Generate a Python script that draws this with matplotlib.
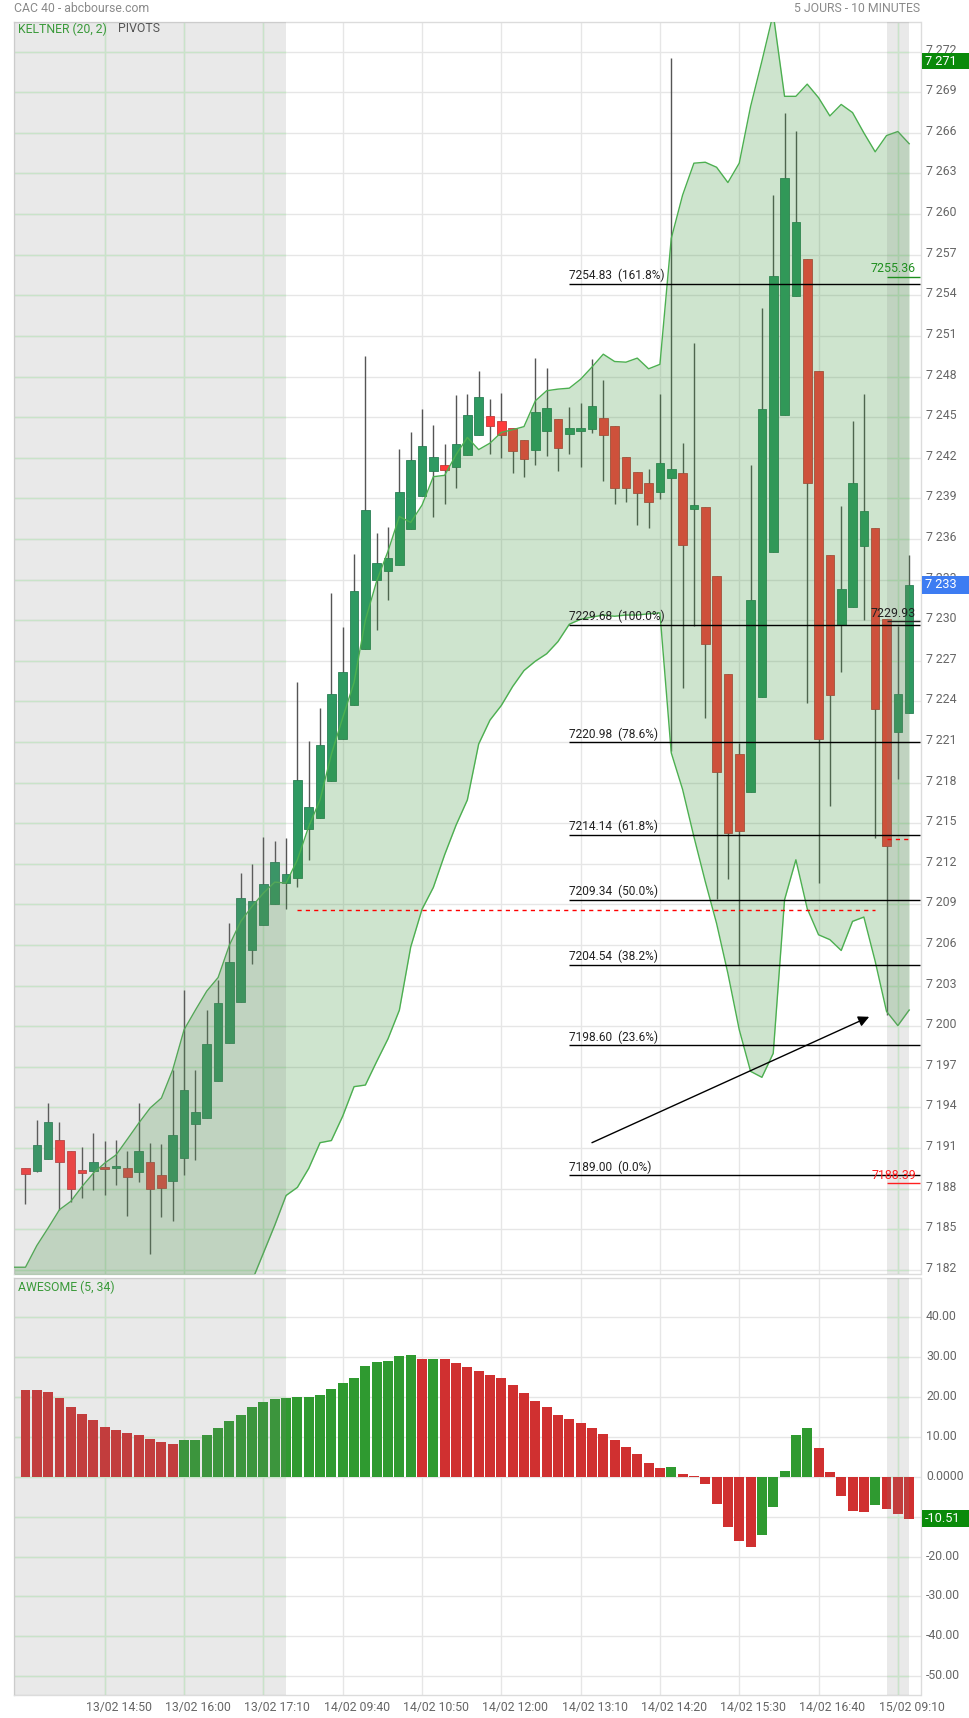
import matplotlib
matplotlib.use("Agg")
import matplotlib.pyplot as plt
import numpy as np
from matplotlib.patches import Rectangle, FancyArrowPatch
from matplotlib.transforms import ScaledTranslation, blended_transform_factory

plt.rcParams["font.family"] = ["Roboto", "DejaVu Sans"]
FS = 8.6

# ---------------------------------------------------------------- data
# 10-minute candles, 13/02 13:40 -> 15/02 09:20
opens = [7189.5, 7189.3, 7190.2, 7191.6, 7190.8, 7189.4, 7189.3, 7189.6, 7189.53, 7189.5,
         7189.2, 7190.0, 7189.0, 7188.6, 7190.25, 7192.8, 7193.2, 7195.95, 7198.8, 7201.8,
         7205.6, 7207.45, 7209.0, 7210.55, 7210.95, 7214.55, 7215.4, 7218.1, 7221.25, 7223.7,
         7227.9, 7233.0, 7233.6, 7234.05, 7236.7, 7239.2, 7241.0, 7241.5, 7241.3, 7242.2,
         7243.65, 7245.05, 7244.75, 7244.2, 7243.3, 7242.55, 7243.95, 7244.85, 7243.75, 7243.95,
         7244.1, 7244.95, 7244.35, 7242.05, 7240.95, 7240.15, 7239.45, 7240.5, 7240.85, 7238.2,
         7238.35, 7233.3, 7226.0, 7220.1, 7217.3, 7224.35, 7235.0, 7245.15, 7253.95, 7256.65,
         7248.4, 7234.8, 7229.65, 7230.95, 7235.5, 7236.8, 7230.1, 7221.75, 7223.15]
highs = [7189.5, 7193.1, 7194.3, 7192.9, 7190.8, 7191.1, 7192.1, 7191.55, 7191.6, 7190.8,
         7194.3, 7191.4, 7191.3, 7196.8, 7202.7, 7196.8, 7201.2, 7203.4, 7207.6, 7211.3,
         7212.0, 7214.0, 7213.7, 7213.9, 7225.4, 7221.1, 7223.5, 7232.0, 7229.5, 7234.9,
         7249.5, 7236.45, 7236.85, 7242.65, 7243.9, 7245.6, 7244.4, 7243.0, 7246.65, 7246.7,
         7248.4, 7246.35, 7246.8, 7244.2, 7243.3, 7249.35, 7248.6, 7244.85, 7245.75, 7246.05,
         7249.3, 7247.75, 7244.35, 7242.05, 7240.95, 7241.15, 7246.7, 7271.5, 7243.1, 7250.45,
         7238.35, 7233.3, 7226.0, 7220.9, 7241.5, 7253.05, 7261.4, 7267.5, 7266.15, 7256.65,
         7248.4, 7234.8, 7238.4, 7244.75, 7246.7, 7236.8, 7230.1, 7229.6, 7234.85]
lows = [7186.9, 7189.2, 7190.2, 7186.45, 7187.0, 7187.3, 7187.9, 7187.5, 7188.3, 7186.0,
        7188.5, 7183.15, 7185.9, 7185.6, 7189.0, 7190.1, 7193.2, 7195.95, 7198.8, 7201.8,
        7204.6, 7207.45, 7209.0, 7208.65, 7210.3, 7212.25, 7215.4, 7218.1, 7221.25, 7223.7,
        7227.9, 7229.25, 7231.5, 7234.05, 7236.7, 7239.2, 7237.6, 7238.55, 7239.75, 7242.2,
        7243.65, 7242.3, 7242.0, 7240.9, 7240.55, 7241.45, 7242.1, 7241.05, 7242.3, 7241.35,
        7243.85, 7240.25, 7238.55, 7238.75, 7237.0, 7236.8, 7238.95, 7220.3, 7225.0, 7229.55,
        7222.75, 7209.4, 7210.85, 7204.55, 7217.3, 7224.35, 7235.0, 7245.15, 7253.95, 7223.85,
        7210.6, 7216.25, 7226.15, 7230.95, 7230.0, 7213.9, 7200.85, 7218.25, 7223.15]
closes = [7189.1, 7191.2, 7192.9, 7190.0, 7188.0, 7189.15, 7190.0, 7189.45, 7189.63, 7188.9,
          7190.8, 7188.0, 7188.05, 7192.0, 7195.3, 7193.65, 7198.7, 7201.7, 7204.75, 7209.5,
          7209.25, 7210.5, 7212.1, 7211.25, 7218.2, 7216.2, 7220.8, 7224.55, 7226.15, 7232.15,
          7238.15, 7234.2, 7234.6, 7239.45, 7241.8, 7242.9, 7242.05, 7241.1, 7243.0, 7245.15,
          7246.5, 7244.35, 7243.65, 7242.5, 7241.9, 7245.35, 7245.65, 7242.7, 7244.2, 7244.2,
          7245.8, 7243.65, 7239.75, 7239.75, 7239.4, 7238.75, 7241.6, 7241.15, 7235.55, 7238.5,
          7228.25, 7218.8, 7214.25, 7214.4, 7231.5, 7245.6, 7255.4, 7262.65, 7259.4, 7240.1,
          7221.2, 7224.45, 7232.3, 7240.1, 7238.05, 7223.45, 7213.35, 7224.55, 7232.6]

# Keltner (20, 2) envelope, starting one bar before the first candle
keltner_upper = [7182.2, 7182.2, 7183.8, 7185.1, 7186.45, 7187.07, 7188.17, 7189.16, 7189.9, 7190.5,
                 7191.67, 7192.85, 7193.96, 7194.7, 7196.8, 7199.75, 7201.2, 7202.6, 7203.6, 7206.0,
                 7207.75, 7208.86, 7209.84, 7210.65, 7210.58, 7212.3, 7214.76, 7216.73, 7220.1, 7222.8,
                 7225.4, 7230.0, 7232.9, 7235.1, 7237.66, 7237.22, 7238.5, 7240.6, 7240.7, 7242.22,
                 7243.5, 7242.6, 7243.08, 7243.87, 7244.07, 7244.3, 7246.2, 7246.95, 7247.07, 7247.14,
                 7247.8, 7248.7, 7249.65, 7249.11, 7249.06, 7249.36, 7248.57, 7248.9, 7258.2, 7261.4,
                 7263.76, 7263.83, 7263.46, 7262.33, 7263.76, 7267.94, 7271.3, 7274.8, 7268.7, 7268.7,
                 7269.6, 7268.6, 7267.25, 7268.1, 7267.5, 7266.0, 7264.6, 7265.8, 7266.1, 7265.2]
keltner_lower = [7166.2,
                 7166.5, 7166.8, 7167.4, 7168.0, 7168.6, 7169.1, 7169.7, 7170.2, 7170.8, 7171.3,
                 7171.9, 7172.4, 7173.0, 7173.6, 7174.3, 7175.1, 7176.0, 7176.9, 7177.9, 7179.3,
                 7181.2, 7183.25, 7185.3, 7187.5, 7188.1, 7189.5, 7191.4, 7191.56, 7193.36, 7195.54,
                 7195.66, 7197.4, 7199.08, 7201.19, 7205.85, 7208.64, 7210.26, 7212.68, 7214.85, 7216.72,
                 7220.85, 7222.62, 7223.7, 7225.1, 7226.28, 7226.97, 7227.52, 7228.42, 7229.7, 7230.07,
                 7230.23, 7230.38, 7230.29, 7230.38, 7230.38, 7230.47, 7230.54, 7220.2, 7217.5, 7214.0,
                 7210.7, 7207.6, 7203.9, 7199.75, 7196.67, 7196.23, 7198.0, 7209.35, 7212.3, 7208.7,
                 7206.76, 7206.4, 7205.6, 7207.75, 7208.07, 7204.8, 7201.1, 7200.05, 7201.2]

# Awesome oscillator (5, 34)
awesome = [21.8, 21.75, 21.2, 19.75, 17.5, 15.7, 14.2, 12.5, 11.7, 10.95,
           10.45, 9.45, 8.7, 8.2, 9.2, 9.25, 10.45, 12.2, 13.95, 15.5,
           17.5, 18.75, 19.5, 19.75, 20.0, 20.05, 20.5, 22.0, 23.5, 24.8,
           27.8, 28.8, 29.05, 30.3, 30.55, 29.5, 29.55, 29.5, 28.5, 27.5,
           26.5, 25.5, 24.75, 23.0, 21.0, 19.0, 17.5, 15.5, 14.5, 13.5,
           12.2, 10.7, 9.2, 7.45, 5.7, 3.45, 2.2, 2.45, 0.67, 0.2,
           -1.8, -6.75, -12.5, -16.2, -17.5, -14.6, -7.5, 1.4, 10.45, 12.2,
           7.2, 1.15, -4.8, -8.6, -8.85, -7.05, -8.05, -9.3, -10.51]

time_labels = ["13/02 14:50", "13/02 16:00", "13/02 17:10", "14/02 09:40", "14/02 10:50",
               "14/02 12:00", "14/02 13:10", "14/02 14:20", "14/02 15:30", "14/02 16:40",
               "15/02 09:10"]
time_label_bars = [7, 14, 21, 28, 35, 42, 49, 56, 63, 70, 77]

# session shading (13/02 and 15/02), in bar units
off_sessions = [(-1.1, 23), (76, 78)]

# Fibonacci retracement 7189.00 -> 7229.68
fib_levels = [7254.83, 7229.68, 7220.98, 7214.14, 7209.34, 7204.54, 7198.60, 7189.00]
fib_pcts = ["161.8%", "100.0%", "78.6%", "61.8%", "50.0%", "38.2%", "23.6%", "0.0%"]
fib_start = 48

pivot_14 = 7208.6
pivot_15 = 7213.83
day_high, day_open, day_low = 7255.36, 7229.93, 7188.39
band_last = 7271.3

trend_start = (50.0, 7191.4)
trend_end = (74.47, 7200.7)

# ---------------------------------------------------------------- figure
W, H = 969, 1718
fig = plt.figure(figsize=(W / 100, H / 100), dpi=100)
fig.patch.set_facecolor("white")


def fx(px):
    return px / W


def fy(py):
    return 1 - py / H


def thousands(v):
    v = int(round(v))
    return f"{v // 1000} {v % 1000:03d}"


ax = fig.add_axes([fx(14), fy(1274), (920.5 - 14) / W, (1274 - 22) / H])
ax2 = fig.add_axes([fx(14), fy(1695), (920.5 - 14) / W, (1695 - 1278) / H])

n = len(closes)
idx = np.arange(n)
xb = np.arange(-1, n)
o, h, l, c = map(np.array, (opens, highs, lows, closes))

GRID = "#e6e6e6"
GRID_OFF = "#d8f8d8"
OVERLAY = "#808080"
TICK_C = "#666666"
GREEN_C = "#2e9a62"
RED_C = "#ff3b3b"

for a in (ax, ax2):
    a.set_xlim(-1.015, 79.0)
    a.set_axisbelow(True)
    a.grid(True, color=GRID, lw=1)
    for s in a.spines.values():
        s.set_color("#dcdcdc")
        s.set_linewidth(1)
    a.yaxis.tick_right()
    a.set_xticks(time_label_bars)
    a.tick_params(length=0, labelcolor=TICK_C, labelsize=FS + 0.2, pad=4)

ax.set_ylim(7181.7, 7274.19)
ax2.set_ylim(-54.7, 49.85)

price_ticks = np.arange(7182, 7273, 3)
ax.set_yticks(price_ticks)
ax.set_yticklabels([thousands(t) for t in price_ticks])
ax.set_xticklabels([])

ao_ticks = np.arange(40, -51, -10)
ax2.set_yticks(ao_ticks)
ax2.set_yticklabels(["0.0000" if t == 0 else f"{t:.2f}" for t in ao_ticks])
ax2.set_xticklabels(time_labels)
ax2.tick_params(axis="x", pad=4)

for lab in ax.get_yticklabels():
    lab.set_transform(lab.get_transform() + ScaledTranslation(0, 3 / 100, fig.dpi_scale_trans))
for lab in ax2.get_yticklabels():
    lab.set_transform(lab.get_transform() + ScaledTranslation(0, 2 / 100, fig.dpi_scale_trans))
for lab in ax2.get_xticklabels():
    lab.set_transform(lab.get_transform() + ScaledTranslation(14 / 100, 0, fig.dpi_scale_trans))

# pale green grid inside the shaded sessions
for a, yt in ((ax, price_ticks), (ax2, ao_ticks)):
    for x0, x1 in off_sessions:
        a.hlines(yt, x0, x1, colors=GRID_OFF, lw=1, zorder=0.6)
        vx = [t for t in time_label_bars if x0 <= t <= x1]
        a.vlines(vx, *a.get_ylim(), colors=GRID_OFF, lw=1, zorder=0.6)

# candles
up = c >= o
body_col = np.where(up, GREEN_C, RED_C)
edge_col = np.where(up, "#2a7f55", "#c23a3a")
ax.vlines(idx, l, h, colors="#555555", lw=1, zorder=1.5)
ax.bar(idx, np.maximum(np.abs(c - o), 0.12), bottom=np.minimum(o, c), width=0.76,
       color=body_col, edgecolor=edge_col, linewidth=0.6, zorder=2)

# Keltner envelope
ax.fill_between(xb, keltner_lower, keltner_upper, color="#3c963c", alpha=0.25, lw=0, zorder=3)
ax.plot(xb, keltner_upper, color="#4caf50", lw=1, zorder=3.5)
ax.plot(xb, keltner_lower, color="#4caf50", lw=1, zorder=3.5)

# awesome oscillator
ao = np.array(awesome)
ao_up = np.r_[False, ao[1:] > ao[:-1]]
ax2.bar(idx, ao, width=0.88, color=np.where(ao_up, "#2f9a30", "#d03030"), lw=0, zorder=2)

# session shading
for a in (ax, ax2):
    for x0, x1 in off_sessions:
        a.axvspan(x0, x1, color=OVERLAY, alpha=0.17, lw=0, zorder=4)

# pivots
ax.hlines(pivot_14, 24, 75, colors="#ff0000", linestyles=(0, (3, 3)), lw=1, zorder=5)
ax.hlines(pivot_15, 76, 78, colors="#ff0000", linestyles=(0, (3, 3)), lw=1, zorder=5)

# Fibonacci levels
ax.hlines(fib_levels, fib_start, 79.0, colors="black", lw=1, zorder=5)
for lv, pc in zip(fib_levels, fib_pcts):
    ax.text(fib_start, lv + 0.12, f"{lv:.2f}  ({pc})", ha="left", va="bottom",
            fontsize=FS, color="#222222", zorder=6)

# trend arrow
ax.add_patch(FancyArrowPatch(trend_start, trend_end, arrowstyle="-|>", mutation_scale=16,
                             color="black", lw=1, zorder=6, shrinkA=0, shrinkB=0))

# session markers at the right edge
for val, col in ((day_high, "#1f8f1f"), (day_open, "#222222"), (day_low, "#ff2020")):
    ax.hlines(val, 76, 79.0, colors=col, lw=1, zorder=6)
    ax.text(78.6, val + 0.12, f"{val:.2f}", ha="right", va="bottom", fontsize=FS + 0.3,
            color=col, zorder=7)

# value boxes on the right axis
tr1 = blended_transform_factory(fig.transFigure, ax.transData)
tr2 = blended_transform_factory(fig.transFigure, ax2.transData)
boxes = [(ax, tr1, band_last, 1.18, "#0a8a0a", thousands(band_last)),
         (ax, tr1, closes[-1], 1.26, "#3d7cf2", thousands(closes[-1])),
         (ax2, tr2, awesome[-1], 4.26, "#0a8a0a", f"{awesome[-1]:.2f}")]
for a, tr, val, hh, col, txt in boxes:
    a.add_patch(Rectangle((fx(922), val - hh / 2), 1 - fx(922), hh, transform=tr,
                          facecolor=col, edgecolor="none", clip_on=False, zorder=10))
    a.text(fx(925), val, txt, transform=tr, color="white", fontsize=FS + 0.6, va="center",
           ha="left", clip_on=False, zorder=11)

# header and panel captions
fig.text(fx(14), fy(9), "CAC 40 - abcbourse.com", color="#8a8a8a", fontsize=FS + 0.2,
         ha="left", va="center")
fig.text(fx(920), fy(9), "5 JOURS - 10 MINUTES", color="#8a8a8a", fontsize=FS + 0.2,
         ha="right", va="center")
fig.text(fx(18), fy(29), "KELTNER (20, 2)", color="#3a9a3a", fontsize=FS + 0.2, ha="left",
         va="center", zorder=20)
fig.text(fx(118), fy(29), "PIVOTS", color="#555555", fontsize=FS + 0.2, ha="left",
         va="center", zorder=20)
fig.text(fx(18), fy(1287), "AWESOME (5, 34)", color="#3a9a3a", fontsize=FS + 0.2, ha="left",
         va="center", zorder=20)

fig.savefig("out.png", dpi=100, facecolor="white")
